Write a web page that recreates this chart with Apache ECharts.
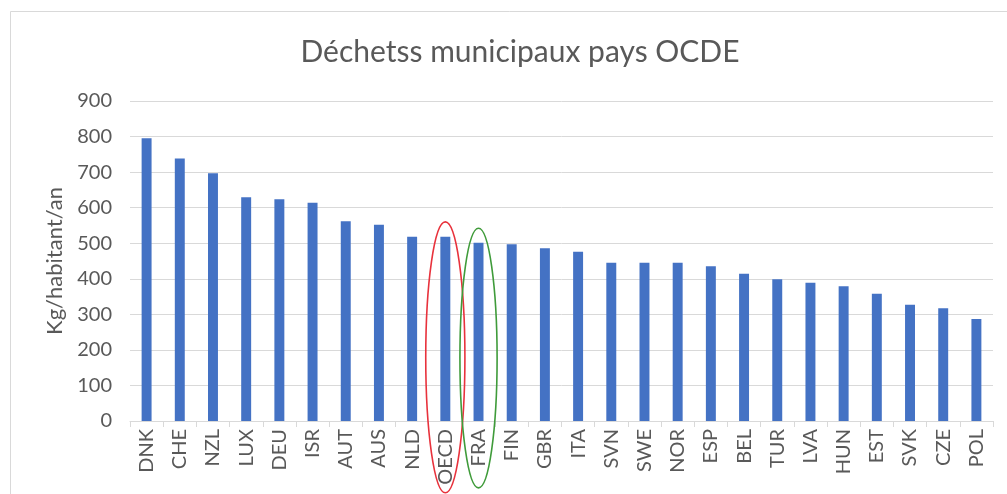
<!DOCTYPE html>
<html>
<head>
<meta charset="utf-8">
<script src="https://cdn.jsdelivr.net/npm/echarts@6/dist/echarts.min.js"></script>
<style>
  html, body { margin: 0; padding: 0; background: #fff; }
  #chart { width: 1007px; height: 494px; }
</style>
</head>
<body>
<div id="chart"></div>
<script>
// Municipal waste per inhabitant, OECD countries (kg/habitant/an)
const countries = ['DNK', 'CHE', 'NZL', 'LUX', 'DEU', 'ISR', 'AUT', 'AUS', 'NLD', 'OECD', 'FRA', 'FIN', 'GBR',
  'ITA', 'SVN', 'SWE', 'NOR', 'ESP', 'BEL', 'TUR', 'LVA', 'HUN', 'EST', 'SVK', 'CZE', 'POL'];
const wastePerCapita = [795, 738, 697, 629, 624, 614, 562, 552, 518, 518, 501, 497, 486,
  476, 445, 445, 445, 435, 414, 399, 389, 379, 358, 327, 317, 287];
const yTicks = [0, 100, 200, 300, 400, 500, 600, 700, 800, 900];

// Highlighted categories: [category, ellipse top value, ellipse bottom value, half-width in categories, colour]
const highlights = [
  ['OECD', 560, -202, 0.59, '#e8323c'],
  ['FRA', 542, -188, 0.56, '#3f9b3a']
];

const textColor = '#595959';
const gridColor = '#d9d9d9';
const fontFamily = 'Lato, "Open Sans", sans-serif';

const chart = echarts.init(document.getElementById('chart'), null, { renderer: 'canvas' });

chart.setOption({
  animation: false,
  backgroundColor: '#ffffff',
  title: {
    text: 'Déchetss municipaux pays OCDE',
    left: 515,
    top: 32,
    textAlign: 'center',
    textStyle: { color: textColor, fontFamily: fontFamily, fontWeight: 'normal', fontSize: 30 }
  },
  grid: { left: 130, right: 14, top: 101, bottom: 73, containLabel: false },
  xAxis: {
    type: 'category',
    data: countries,
    axisLine: { lineStyle: { color: gridColor, width: 1 } },
    axisTick: { show: true, length: 6, lineStyle: { color: gridColor } },
    axisLabel: {
      rotate: 90,
      margin: 8,
      color: textColor,
      fontFamily: fontFamily,
      fontSize: 20,
      interval: 0
    }
  },
  yAxis: {
    type: 'value',
    min: yTicks[0],
    max: yTicks[yTicks.length - 1],
    interval: yTicks[1] - yTicks[0],
    name: 'Kg/habitant/an',
    nameLocation: 'middle',
    nameGap: 58,
    nameTextStyle: { color: textColor, fontFamily: fontFamily, fontSize: 22 },
    axisLine: { show: false },
    axisTick: { show: false },
    axisLabel: { color: textColor, fontFamily: fontFamily, fontSize: 20, margin: 18 },
    splitLine: { lineStyle: { color: gridColor, width: 1 } }
  },
  series: [{
    type: 'bar',
    data: wastePerCapita,
    barWidth: '30%',
    itemStyle: { color: '#4472c4' }
  }]
});

// Chart frame and the ellipses circling the highlighted bars
function drawOverlays() {
  const step = chart.convertToPixel({ xAxisIndex: 0 }, countries[1]) - chart.convertToPixel({ xAxisIndex: 0 }, countries[0]);
  const elements = [{
    type: 'rect',
    silent: true,
    shape: { x: 10.5, y: 11.5, width: 1100, height: 600 },
    style: { fill: 'none', stroke: '#d9d9d9', lineWidth: 1 }
  }];
  highlights.forEach(function (h) {
    const cx = chart.convertToPixel({ xAxisIndex: 0 }, h[0]);
    const yTop = chart.convertToPixel({ yAxisIndex: 0 }, h[1]);
    const yBottom = chart.convertToPixel({ yAxisIndex: 0 }, h[2]);
    elements.push({
      type: 'ellipse',
      silent: true,
      z: 100,
      shape: { cx: cx, cy: (yTop + yBottom) / 2, rx: step * h[3], ry: (yBottom - yTop) / 2 },
      style: { fill: 'none', stroke: h[4], lineWidth: 1.6 }
    });
  });
  chart.setOption({ graphic: elements });
}
drawOverlays();
</script>
</body>
</html>
